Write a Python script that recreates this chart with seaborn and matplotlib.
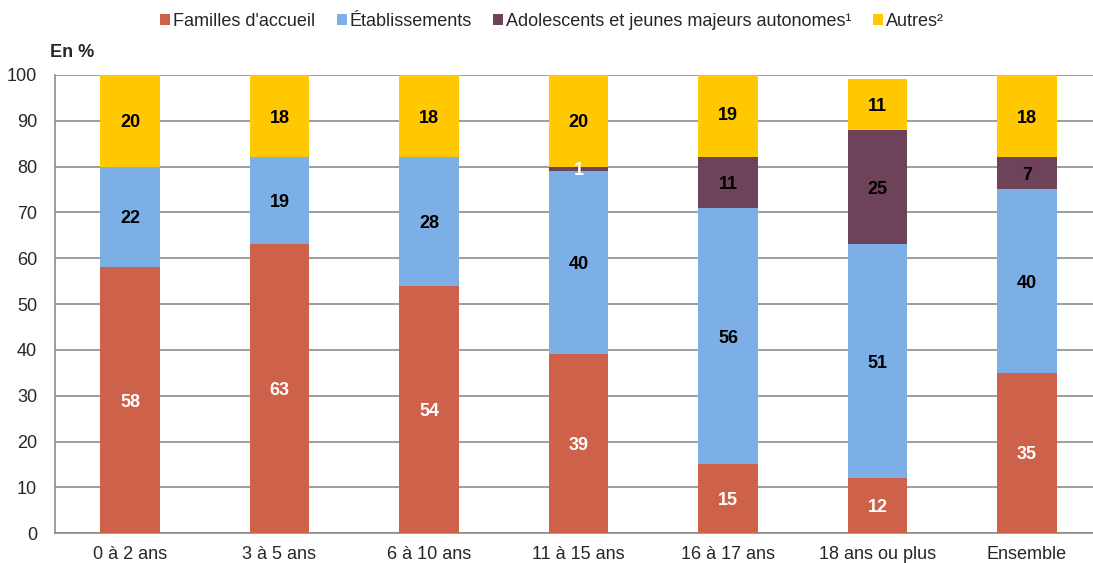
import numpy as np
import pandas as pd
import matplotlib.pyplot as plt
from matplotlib.patches import Patch
import seaborn as sns

# --- Data ---
categories = ["0 à 2 ans", "3 à 5 ans", "6 à 10 ans", "11 à 15 ans",
              "16 à 17 ans", "18 ans ou plus", "Ensemble"]
familles = [58, 63, 54, 39, 15, 12, 35]
etablissements = [22, 19, 28, 40, 56, 51, 40]
adolescents = [0, 0, 0, 1, 11, 25, 7]
autres = [20, 18, 18, 20, 19, 11, 18]

series_names = ["Familles d'accueil", "Établissements",
                "Adolescents et jeunes majeurs autonomes¹", "Autres²"]
colors = ["#CD614A", "#7BAFE6", "#6E4259", "#FFC800"]
label_colors = ["white", "black", "black", "black"]

df = pd.DataFrame({
    "cat": categories,
    "fam": familles,
    "eta": etablissements,
    "ado": adolescents,
    "aut": autres,
})
cols = ["fam", "eta", "ado", "aut"]
cum = df[cols].cumsum(axis=1)

sns.set_style("white")
plt.rcParams["font.family"] = ["Liberation Sans", "DejaVu Sans"]

fig, ax = plt.subplots(figsize=(10.93, 5.63), dpi=100)
# plot area runs slightly past the right edge, as in the original
fig.subplots_adjust(left=0.0505, right=1.008, top=0.867, bottom=0.053)

# draw from the tallest cumulative down so bars look stacked
for col, color in reversed(list(zip(cols, colors))):
    sns.barplot(x=df["cat"], y=cum[col], order=categories, color=color,
                width=0.4, saturation=1, edgecolor="none", linewidth=0,
                ax=ax, zorder=3)

# value labels
for i in range(len(categories)):
    bottom = 0
    for j, col in enumerate(cols):
        v = df[col].iloc[i]
        if v > 0:
            c = label_colors[j]
            if col == "ado" and v < 3:
                c = "white"
            ax.text(i, bottom + v / 2, f"{v}", ha="center", va="center_baseline",
                    fontsize=13, fontweight="bold", color=c, zorder=4)
        bottom += v

ax.set_ylim(0, 100)
ax.set_xlim(-0.5, len(categories) - 0.5)
ax.set_yticks(range(0, 101, 10))
ax.yaxis.grid(True, color="#8C8C8C", linewidth=1.2, zorder=0)
ax.set_axisbelow(True)
ax.set_xlabel("")
ax.set_ylabel("")

for s in ["top", "right"]:
    ax.spines[s].set_visible(False)
for s in ["left", "bottom"]:
    ax.spines[s].set_color("#8C8C8C")
    ax.spines[s].set_linewidth(1.2)

ax.tick_params(axis="y", labelsize=13, length=5, color="#8C8C8C", width=1.2, pad=8)
ax.tick_params(axis="x", which="major", labelsize=13, length=0, pad=9)
ax.set_xticks(np.arange(-0.5, len(categories)), minor=True)
ax.tick_params(axis="x", which="minor", length=5, color="#8C8C8C", width=1.2)

fig.text(0.046, 0.907, "En %", fontsize=13, fontweight="bold", ha="left", va="center")

handles = [Patch(facecolor=c, edgecolor="none") for c in colors]
fig.legend(handles, series_names, loc="center", bbox_to_anchor=(0.505, 0.962),
           ncol=4, frameon=False, fontsize=13, handlelength=0.55, handleheight=0.55,
           handletextpad=0.15, columnspacing=1.2)

plt.savefig("out.png", dpi=100)
